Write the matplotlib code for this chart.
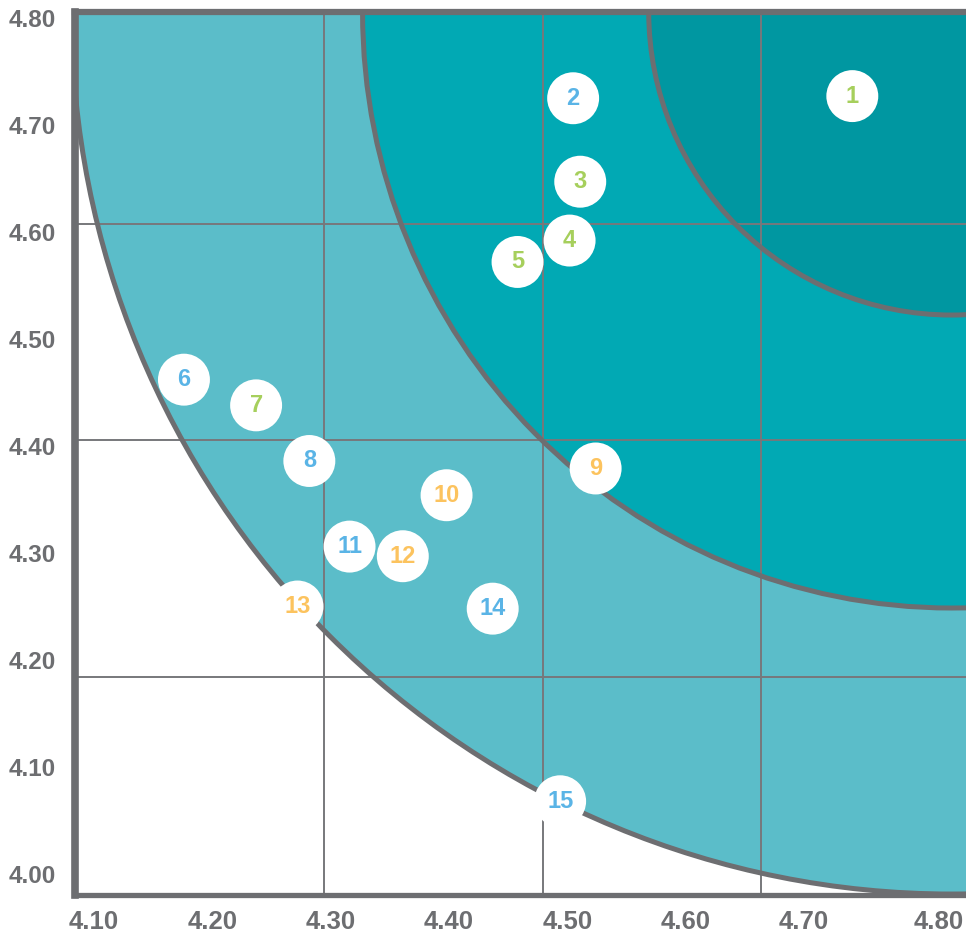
import matplotlib
matplotlib.use("Agg")
import matplotlib.pyplot as plt
from matplotlib.patches import Ellipse
from matplotlib import font_manager

# ---- data ----
labels = ["1", "2", "3", "4", "5", "6", "7", "8", "9", "10", "11", "12", "13", "14", "15"]
x_vals = [4.741, 4.505, 4.511, 4.502, 4.458, 4.176, 4.237, 4.282, 4.524, 4.398, 4.316, 4.361, 4.272, 4.437, 4.494]
y_vals = [4.727, 4.725, 4.647, 4.592, 4.572, 4.462, 4.438, 4.386, 4.379, 4.354, 4.306, 4.297, 4.250, 4.248, 4.068]
groups = ["g", "b", "g", "g", "g", "b", "g", "b", "o", "o", "b", "o", "o", "b", "b"]

x_ticks = [4.10, 4.20, 4.30, 4.40, 4.50, 4.60, 4.70, 4.80]
y_ticks = [4.00, 4.10, 4.20, 4.30, 4.40, 4.50, 4.60, 4.70, 4.80]
grid_x = [4.2944, 4.4795, 4.6638]
grid_y = [4.6075, 4.4056, 4.1841]

# zone rings (centre and radii in data units)
zone_center = (4.8250, 4.8056)
zone_rx = [0.7440, 0.4980, 0.2561]
zone_ry = [0.8243, 0.5570, 0.2832]
zone_colors = ["#5bbdc9", "#01a9b4", "#0097a1"]

group_colors = {"g": "#a6cf5c", "b": "#5ab4e6", "o": "#fcc35e"}
GRAY = "#6d6e71"

avail = {f.name for f in font_manager.fontManager.ttflist}
narrow = "Liberation Sans Narrow" if "Liberation Sans Narrow" in avail else "Liberation Sans"

fig = plt.figure(figsize=(9.66, 9.36), dpi=100)
ax = fig.add_axes([75 / 966, 41 / 936, 1 - 75 / 966, (895 - 12) / 936])
ax.set_xlim(4.0839, 4.8371)
ax.set_ylim(3.9804, 4.8056)

# filled zones
for rx, ry, c in zip(zone_rx, zone_ry, zone_colors):
    ax.add_patch(Ellipse(zone_center, 2 * rx, 2 * ry, facecolor=c, edgecolor="none", zorder=1))

# grid
for gx in grid_x:
    ax.axvline(gx, color="#77787b", lw=1.4, zorder=2)
for gy in grid_y:
    ax.axhline(gy, color="#77787b", lw=1.4, zorder=2)

# ring outlines
for rx, ry in zip(zone_rx, zone_ry):
    ax.add_patch(Ellipse(zone_center, 2 * rx, 2 * ry, facecolor="none", edgecolor=GRAY, lw=3.6, zorder=3))

# points
ax.scatter(x_vals, y_vals, s=37.4 ** 2, color="white", edgecolor="none", zorder=4)
for lab, x, y, g in zip(labels, x_vals, y_vals, groups):
    ax.text(x, y, lab, ha="center", va="center", color=group_colors[g], fontsize=17,
            fontweight="bold", family="Liberation Sans", zorder=5)

# spines
ax.spines["right"].set_visible(False)
ax.spines["left"].set_linewidth(5.5)
ax.spines["top"].set_linewidth(4.5)
ax.spines["bottom"].set_linewidth(3.8)
for side in ["left", "top", "bottom"]:
    ax.spines[side].set_color(GRAY)
    ax.spines[side].set_zorder(6)

ax.set_yticks(y_ticks)
ax.set_yticklabels([f"{v:.2f}" for v in y_ticks], fontsize=17.5, fontweight="bold",
                   family="Liberation Sans", color=GRAY)
ax.set_xticks(x_ticks[:-1])
ax.set_xticklabels([f"{v:.2f}" for v in x_ticks[:-1]], fontsize=18.5, fontweight="bold",
                   family=narrow, color=GRAY)
ax.tick_params(axis="y", length=0, pad=14)
ax.tick_params(axis="x", length=0, pad=11)
# last x label sits against the right edge of the figure
ax.annotate(f"{x_ticks[-1]:.2f}", xy=(x_ticks[-1], 0), xycoords=("data", "axes fraction"),
            xytext=(12, -11), textcoords="offset points", ha="center", va="top",
            fontsize=18.5, fontweight="bold", family=narrow, color=GRAY, annotation_clip=False)

fig.savefig("out.png", dpi=100)
